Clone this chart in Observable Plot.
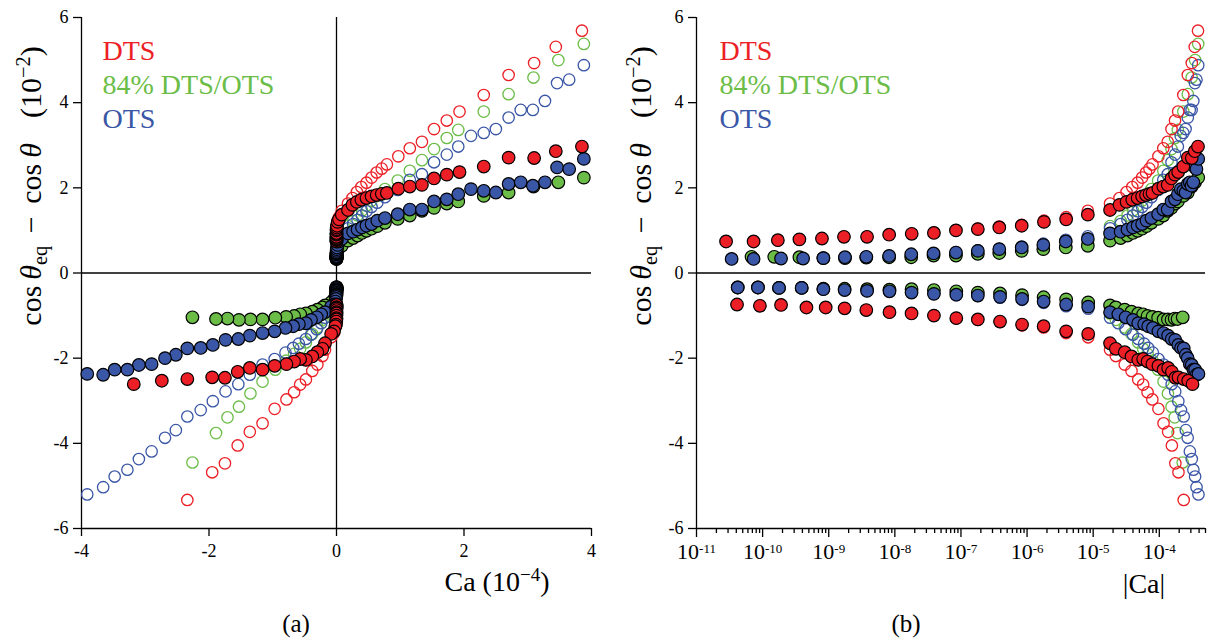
<!DOCTYPE html>
<html><head><meta charset="utf-8">
<script src="https://cdn.jsdelivr.net/npm/d3@7"></script>
<script src="https://cdn.jsdelivr.net/npm/@observablehq/plot@0.6"></script>
<style>
html,body{margin:0;padding:0;background:#fff;}
#wrap{position:relative;width:1207px;height:639px;overflow:hidden;font-family:"Liberation Serif","DejaVu Serif",serif;color:#000;}
.lbl{position:absolute;white-space:nowrap;transform:translate(-50%,-50%);line-height:1;}
.rot{transform:translate(-50%,-50%) rotate(-90deg);}
.sup{font-size:0.68em;position:relative;top:-0.55em;}
.sub{font-size:0.68em;position:relative;top:0.3em;}
</style></head><body>
<div id="wrap">
  <div id="pa" style="position:absolute;left:0;top:0"></div>
  <div id="pb" style="position:absolute;left:603px;top:0"></div>
  <div class="lbl rot" style="left:31px;top:186px;font-size:30px;word-spacing:5px">cos&thinsp;<i>θ</i><span class="sub">eq</span> − cos&thinsp;<i>θ</i>&nbsp;&nbsp;(10<span class="sup">−2</span>)</div>
  <div class="lbl rot" style="left:641px;top:186px;font-size:30px;word-spacing:5px">cos&thinsp;<i>θ</i><span class="sub">eq</span> − cos&thinsp;<i>θ</i>&nbsp;&nbsp;(10<span class="sup">−2</span>)</div>
  <div class="lbl" style="left:497px;top:582px;font-size:28px">Ca (10<span class="sup">−4</span>)</div>
  <div class="lbl" style="left:1144px;top:584px;font-size:28px">|Ca|</div>
  <div class="lbl" style="left:296px;top:623px;font-size:25px">(a)</div>
  <div class="lbl" style="left:906px;top:623px;font-size:25px">(b)</div>
</div>
<script>
// ---------- data ----------
const seriesNames = ["DTS", "84% DTS/OTS", "OTS"];
const seriesColors = ["#ec1f26", "#6bbd47", "#3a56a6"];
const yDomain = [-6, 6];
const yTicks = [-6, -4, -2, 0, 2, 4, 6];
const caLinDomain = [-4, 4];            // units of 1e-4
const caLinTicks = [-4, -2, 0, 2, 4];
const caLogDomain = [1e-11, 5e-4];
const logDecades = [-11, -10, -9, -8, -7, -6, -5, -4];

// DTS advancing
const dtsAdvCa = [2.8e-11, 7.3e-11, 1.7e-10, 3.6e-10, 7.9e-10, 1.7e-9, 3.8e-9, 8.2e-9, 1.8e-8, 3.9e-8, 8.4e-8, 1.8e-7, 3.8e-7, 8.3e-7, 1.8e-6, 3.9e-6, 8.3e-6, 1.8e-5, 2.5e-5, 3.2e-5, 3.9e-5, 4.7e-5, 5.5e-5, 6.3e-5, 7.1e-5, 7.9e-5, 9.7e-5, 1.15e-4, 1.34e-4, 1.53e-4, 1.73e-4, 1.93e-4, 2.31e-4, 2.70e-4, 3.10e-4, 3.44e-4, 3.85e-4];
const dtsAdvFilled = [0.74, 0.74, 0.77, 0.79, 0.81, 0.85, 0.85, 0.90, 0.92, 0.94, 1.00, 1.03, 1.07, 1.11, 1.20, 1.26, 1.37, 1.48, 1.60, 1.67, 1.72, 1.76, 1.80, 1.83, 1.86, 1.88, 1.98, 2.03, 2.07, 2.22, 2.31, 2.37, 2.50, 2.71, 2.70, 2.86, 2.97];
const dtsAdvOpen = [0.74, 0.74, 0.77, 0.79, 0.81, 0.85, 0.85, 0.90, 0.92, 0.95, 1.01, 1.04, 1.09, 1.13, 1.23, 1.31, 1.46, 1.63, 1.76, 1.90, 2.02, 2.12, 2.24, 2.36, 2.45, 2.55, 2.74, 2.93, 3.08, 3.38, 3.58, 3.79, 4.18, 4.65, 4.93, 5.31, 5.69];
// 84% DTS/OTS advancing
const mixAdvCa = [6.8e-11, 1.5e-10, 3.6e-10, 8.3e-10, 1.76e-9, 3.7e-9, 8.2e-9, 1.77e-8, 3.85e-8, 8.4e-8, 1.8e-7, 3.8e-7, 8.3e-7, 1.76e-6, 3.85e-6, 8.3e-6, 1.8e-5, 2.6e-5, 3.3e-5, 4.0e-5, 4.7e-5, 5.5e-5, 6.4e-5, 7.6e-5, 9.6e-5, 1.15e-4, 1.34e-4, 1.53e-4, 1.73e-4, 1.91e-4, 2.31e-4, 2.70e-4, 3.09e-4, 3.48e-4, 3.88e-4];
const mixAdvFilled = [0.38, 0.38, 0.37, 0.35, 0.35, 0.36, 0.37, 0.37, 0.41, 0.41, 0.45, 0.47, 0.52, 0.56, 0.60, 0.64, 0.76, 0.82, 0.88, 0.94, 0.99, 1.04, 1.10, 1.18, 1.27, 1.35, 1.46, 1.53, 1.63, 1.68, 1.81, 1.89, 2.03, 2.13, 2.24];
const mixAdvOpen = [0.38, 0.38, 0.37, 0.35, 0.35, 0.36, 0.37, 0.38, 0.42, 0.42, 0.46, 0.49, 0.54, 0.59, 0.64, 0.70, 1.10, 1.22, 1.35, 1.47, 1.58, 1.70, 1.82, 1.97, 2.17, 2.40, 2.65, 2.91, 3.17, 3.36, 3.79, 4.20, 4.59, 5.00, 5.38];
// OTS advancing
const otsAdvCa = [3.4e-11, 7.3e-11, 1.9e-10, 4.1e-10, 8.3e-10, 1.76e-9, 3.7e-9, 8.2e-9, 1.77e-8, 3.85e-8, 8.4e-8, 1.8e-7, 3.8e-7, 8.3e-7, 1.76e-6, 3.85e-6, 8.3e-6, 1.8e-5, 2.6e-5, 3.3e-5, 4.0e-5, 4.7e-5, 5.5e-5, 6.4e-5, 7.6e-5, 9.6e-5, 1.15e-4, 1.34e-4, 1.53e-4, 1.73e-4, 1.91e-4, 2.11e-4, 2.31e-4, 2.50e-4, 2.70e-4, 2.89e-4, 3.08e-4, 3.27e-4, 3.46e-4, 3.65e-4, 3.88e-4];
const otsAdvFilled = [0.33, 0.33, 0.34, 0.34, 0.35, 0.37, 0.38, 0.40, 0.44, 0.46, 0.48, 0.52, 0.56, 0.60, 0.66, 0.74, 0.80, 0.93, 0.97, 1.02, 1.07, 1.11, 1.15, 1.23, 1.29, 1.38, 1.49, 1.49, 1.68, 1.73, 1.85, 1.97, 1.93, 1.89, 2.09, 2.13, 2.05, 2.13, 2.48, 2.44, 2.68];
const otsAdvOpen = [0.33, 0.33, 0.34, 0.34, 0.35, 0.37, 0.38, 0.40, 0.44, 0.46, 0.49, 0.53, 0.57, 0.62, 0.69, 0.78, 0.86, 1.05, 1.15, 1.25, 1.35, 1.45, 1.55, 1.65, 1.78, 1.95, 2.19, 2.32, 2.60, 2.78, 2.97, 3.22, 3.29, 3.38, 3.65, 3.83, 3.83, 4.04, 4.46, 4.54, 4.88];
// DTS receding
const dtsRecCa = [4.1e-11, 9.1e-11, 1.9e-10, 4.6e-10, 9.0e-10, 1.74e-9, 3.7e-9, 8.3e-9, 1.79e-8, 3.9e-8, 8.5e-8, 1.8e-7, 3.9e-7, 8.4e-7, 1.78e-6, 3.9e-6, 8.4e-6, 1.8e-5, 2.2e-5, 3.0e-5, 3.8e-5, 4.8e-5, 5.7e-5, 6.65e-5, 7.85e-5, 9.7e-5, 1.16e-4, 1.36e-4, 1.55e-4, 1.75e-4, 1.95e-4, 2.34e-4, 2.74e-4, 3.18e-4];
const dtsRecFilled = [-0.74, -0.77, -0.75, -0.81, -0.81, -0.83, -0.87, -0.92, -0.95, -1.00, -1.06, -1.09, -1.14, -1.21, -1.25, -1.37, -1.43, -1.65, -1.78, -1.86, -1.96, -2.04, -2.02, -2.08, -2.14, -2.18, -2.27, -2.23, -2.32, -2.46, -2.45, -2.49, -2.53, -2.61];
const dtsRecOpen = [-0.74, -0.77, -0.75, -0.81, -0.81, -0.83, -0.87, -0.92, -0.95, -1.00, -1.06, -1.10, -1.15, -1.23, -1.28, -1.41, -1.51, -1.80, -1.95, -2.15, -2.30, -2.50, -2.62, -2.80, -2.97, -3.19, -3.53, -3.73, -4.05, -4.47, -4.68, -5.33, null, null];
// 84% DTS/OTS receding
const mixRecCa = [4.2e-11, 8.5e-11, 1.77e-10, 3.9e-10, 8.3e-10, 1.74e-9, 3.8e-9, 8.3e-9, 1.79e-8, 3.9e-8, 8.5e-8, 1.8e-7, 3.9e-7, 8.4e-7, 1.78e-6, 3.9e-6, 8.4e-6, 1.8e-5, 2.2e-5, 3.0e-5, 3.8e-5, 4.8e-5, 5.7e-5, 6.65e-5, 7.9e-5, 9.6e-5, 1.16e-4, 1.35e-4, 1.53e-4, 1.71e-4, 1.89e-4, 2.26e-4];
const mixRecFilled = [-0.34, -0.34, -0.35, -0.35, -0.37, -0.37, -0.38, -0.39, -0.38, -0.40, -0.43, -0.46, -0.48, -0.52, -0.57, -0.62, -0.69, -0.76, -0.81, -0.86, -0.91, -0.95, -0.97, -1.01, -1.03, -1.05, -1.09, -1.09, -1.10, -1.07, -1.08, -1.04];
const mixRecOpen = [-0.34, -0.34, -0.35, -0.35, -0.37, -0.37, -0.38, -0.39, -0.39, -0.41, -0.44, -0.47, -0.50, -0.55, -0.60, -0.66, -0.74, -0.95, -1.10, -1.28, -1.43, -1.63, -1.78, -1.90, -2.06, -2.27, -2.55, -2.83, -3.14, -3.39, -3.76, -4.45];
// OTS receding
const otsRecCa = [4.2e-11, 8.5e-11, 1.77e-10, 3.9e-10, 8.3e-10, 1.74e-9, 3.8e-9, 8.3e-9, 1.79e-8, 3.9e-8, 8.5e-8, 1.8e-7, 3.9e-7, 8.4e-7, 1.78e-6, 3.9e-6, 8.4e-6, 1.8e-5, 2.4e-5, 3.1e-5, 4.0e-5, 4.8e-5, 5.9e-5, 6.8e-5, 8.0e-5, 9.7e-5, 1.16e-4, 1.36e-4, 1.54e-4, 1.74e-4, 1.94e-4, 2.13e-4, 2.34e-4, 2.52e-4, 2.69e-4, 2.90e-4, 3.10e-4, 3.28e-4, 3.48e-4, 3.66e-4, 3.91e-4];
const otsRecFilled = [-0.34, -0.34, -0.35, -0.35, -0.38, -0.40, -0.42, -0.43, -0.46, -0.49, -0.51, -0.53, -0.56, -0.61, -0.67, -0.74, -0.79, -0.92, -0.97, -1.04, -1.10, -1.18, -1.20, -1.25, -1.29, -1.37, -1.41, -1.47, -1.55, -1.57, -1.69, -1.76, -1.77, -1.92, -2.00, -2.14, -2.16, -2.27, -2.27, -2.39, -2.37];
const otsRecOpen = [-0.34, -0.34, -0.35, -0.35, -0.38, -0.40, -0.42, -0.43, -0.46, -0.49, -0.52, -0.54, -0.58, -0.63, -0.70, -0.78, -0.84, -1.05, -1.18, -1.32, -1.45, -1.55, -1.66, -1.76, -1.87, -2.02, -2.15, -2.39, -2.61, -2.78, -3.01, -3.22, -3.37, -3.69, -3.87, -4.19, -4.37, -4.62, -4.78, -5.03, -5.20];

// ---------- table ----------
function rows(series, dir, ca, filled, open) {
  return ca.map((c, i) => ({series, dir, ca: c, xa: (dir === "adv" ? 1 : -1) * c * 1e4, filled: filled[i], open: open[i]}));
}
// drawing order: 84% first, then OTS, then DTS on top
const table = [].concat(
  rows(seriesNames[1], "adv", mixAdvCa, mixAdvFilled, mixAdvOpen),
  rows(seriesNames[1], "rec", mixRecCa, mixRecFilled, mixRecOpen),
  rows(seriesNames[2], "adv", otsAdvCa, otsAdvFilled, otsAdvOpen),
  rows(seriesNames[2], "rec", otsRecCa, otsRecFilled, otsRecOpen),
  rows(seriesNames[0], "adv", dtsAdvCa, dtsAdvFilled, dtsAdvOpen),
  rows(seriesNames[0], "rec", dtsRecCa, dtsRecFilled, dtsRecOpen)
);
const openRows = table.filter(d => d.open != null);

const minorTicks = [];
for (const e of logDecades) for (let k = 2; k <= 9; k++) { const v = k * Math.pow(10, e); if (v <= caLogDomain[1] * 1.0001) minorTicks.push(v); }

const FONT = '"Liberation Serif", "DejaVu Serif", serif';
const baseStyle = {fontFamily: FONT, fontSize: "18px", overflow: "visible", background: "transparent", color: "black"};
const lineW = 1.3;

function legendMarks(dx) {
  return seriesNames.map((name, i) => Plot.text([name], {
    text: d => d, fill: d => d, frameAnchor: "top-left", textAnchor: "start",
    dx, dy: 23 + i * 34, fontSize: 28
  }));
}
function dotMarks(xKey) {
  return [
    Plot.dot(openRows, {x: xKey, y: "open", r: 5.7, stroke: "series", strokeWidth: 1.3, fill: "none"}),
    Plot.dot(table, {x: xKey, y: "filled", r: 6.3, fill: "series", stroke: "black", strokeWidth: 1.2})
  ];
}

const plotA = Plot.plot({
  width: 603, height: 639,
  marginLeft: 81, marginRight: 12, marginTop: 17, marginBottom: 111,
  style: baseStyle,
  x: {domain: caLinDomain},
  y: {domain: yDomain},
  color: {domain: seriesNames, range: seriesColors},
  marks: [
    Plot.ruleY([0], {stroke: "black", strokeWidth: lineW}),
    Plot.ruleX([0], {stroke: "black", strokeWidth: lineW}),
    Plot.ruleX([caLinDomain[0]], {stroke: "black", strokeWidth: lineW}),
    Plot.ruleY([yDomain[0]], {stroke: "black", strokeWidth: lineW}),
    Plot.axisY({ticks: yTicks, tickSize: 8, tickPadding: 5, tickFormat: d => `${d}`, label: null, strokeWidth: lineW}),
    Plot.axisX({ticks: caLinTicks, tickSize: 8, tickPadding: 8, tickFormat: d => `${d}`, label: null, strokeWidth: lineW}),
    ...dotMarks("xa"),
    ...legendMarks(21)
  ]
});

const plotB = Plot.plot({
  width: 604, height: 639,
  marginLeft: 93, marginRight: 2, marginTop: 17, marginBottom: 111,
  style: baseStyle,
  x: {type: "log", domain: caLogDomain},
  y: {domain: yDomain},
  color: {domain: seriesNames, range: seriesColors},
  marks: [
    Plot.ruleY([0], {stroke: "black", strokeWidth: lineW}),
    Plot.ruleX([caLogDomain[0]], {stroke: "black", strokeWidth: lineW}),
    Plot.ruleY([yDomain[0]], {stroke: "black", strokeWidth: lineW}),
    Plot.axisY({ticks: yTicks, tickSize: 8, tickPadding: 5, tickFormat: d => `${d}`, label: null, strokeWidth: lineW}),
    Plot.axisX({ticks: minorTicks, tickSize: 5, fill: "none", label: null, strokeWidth: lineW}),
    Plot.axisX({ticks: logDecades.map(e => Math.pow(10, e)), tickSize: 9, tickPadding: 6,
      tickFormat: d => `10^${Math.round(Math.log10(d))}`, label: null, strokeWidth: lineW}),
    ...dotMarks("ca"),
    ...legendMarks(23)
  ]
});

document.getElementById("pa").appendChild(plotA);
document.getElementById("pb").appendChild(plotB);

// superscript exponents on the log axis labels
plotB.querySelectorAll('[aria-label="x-axis tick label"] text').forEach(t => {
  const m = /^10\^(-?\d+)$/.exec(t.textContent);
  if (!m) return;
  t.textContent = "";
  t.style.fontSize = "22px";
  const ns = "http://www.w3.org/2000/svg";
  const a = document.createElementNS(ns, "tspan"); a.textContent = "10"; t.appendChild(a);
  const b = document.createElementNS(ns, "tspan"); b.textContent = m[1];
  b.setAttribute("dy", "-0.45em"); b.setAttribute("font-size", "13px"); t.appendChild(b);
});
</script>
</body></html>
